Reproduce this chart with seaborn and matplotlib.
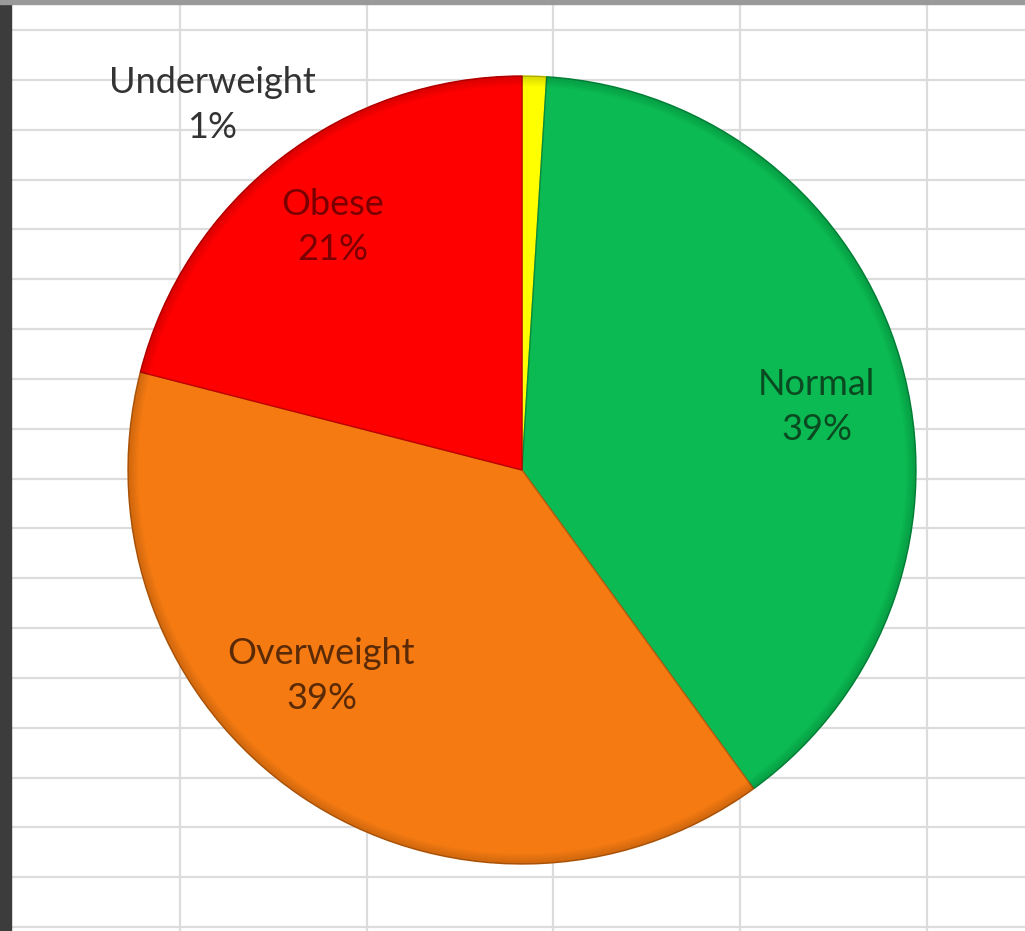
import numpy as np
import matplotlib
matplotlib.use("Agg")
import matplotlib.pyplot as plt
import matplotlib.colors as mcolors
from matplotlib.patches import Wedge
import seaborn as sns

# BMI category shares (percent), clockwise from 12 o'clock
categories = ["Underweight", "Normal", "Overweight", "Obese"]
shares = [1, 39, 39, 21]
slice_colors = ["#FFFF00", "#0BBA52", "#F57A12", "#FE0000"]

sns.set_theme(style="white")
plt.rcParams["font.family"] = ["Lato", "DejaVu Sans"]

W, H = 1025, 931
fig = plt.figure(figsize=(W / 100, H / 100), dpi=100)
fig.patch.set_facecolor("white")

# worksheet background: cell grid and window frame
bg = fig.add_axes([0, 0, 1, 1])
bg.set_xlim(0, W)
bg.set_ylim(H, 0)
bg.axis("off")
for y in np.linspace(30, 927, 19):
    bg.axhline(y, color="#dcdcdc", lw=1.6, zorder=1)
for x in [180, 367, 553, 740, 927]:
    bg.axvline(x, color="#dcdcdc", lw=1.6, zorder=1)
bg.axvspan(0, 11, color="#3c3c3c", zorder=2)
bg.axhspan(0, 3.5, color="#9a9a9a", zorder=2)

# pie axes
cx, cy, r = 522, 470, 394
ax = fig.add_axes([(cx - r) / W, (H - cy - r) / H, 2 * r / W, 2 * r / H])
ax.set_facecolor("none")
edge_cols = [tuple(np.array(mcolors.to_rgb(c)) * 0.75) for c in slice_colors]
wedges, _ = ax.pie(
    shares,
    colors=slice_colors,
    startangle=90,
    counterclock=False,
    radius=1.0,
    wedgeprops=dict(linewidth=1.0, antialiased=True),
)
for w, ec in zip(wedges, edge_cols):
    w.set_edgecolor(ec)
    # soft bevel shading toward the rim
    for rr in np.linspace(0.975, 0.997, 5):
        ax.add_patch(Wedge((0, 0), 1.0, w.theta1, w.theta2, width=1.0 - rr,
                           facecolor="black", alpha=0.03, lw=0, zorder=3))
ax.set_xlim(-1.0, 1.0)
ax.set_ylim(-1.0, 1.0)
ax.set_aspect("auto")
ax.axis("off")

# data labels: category name over percentage
label_pos = [(-0.786, 0.926), (0.748, 0.160), (-0.509, -0.522), (-0.481, 0.616)]
label_cols = ["#333333", "#0a4a20", "#5a2a06", "#7a0000"]
for name, val, (lx, ly), lc in zip(categories, shares, label_pos, label_cols):
    ax.text(lx, ly, f"{name}\n{val}%", ha="center", va="center",
            fontsize=26, color=lc, linespacing=1.45, zorder=5)

fig.savefig("out.png", dpi=100)
